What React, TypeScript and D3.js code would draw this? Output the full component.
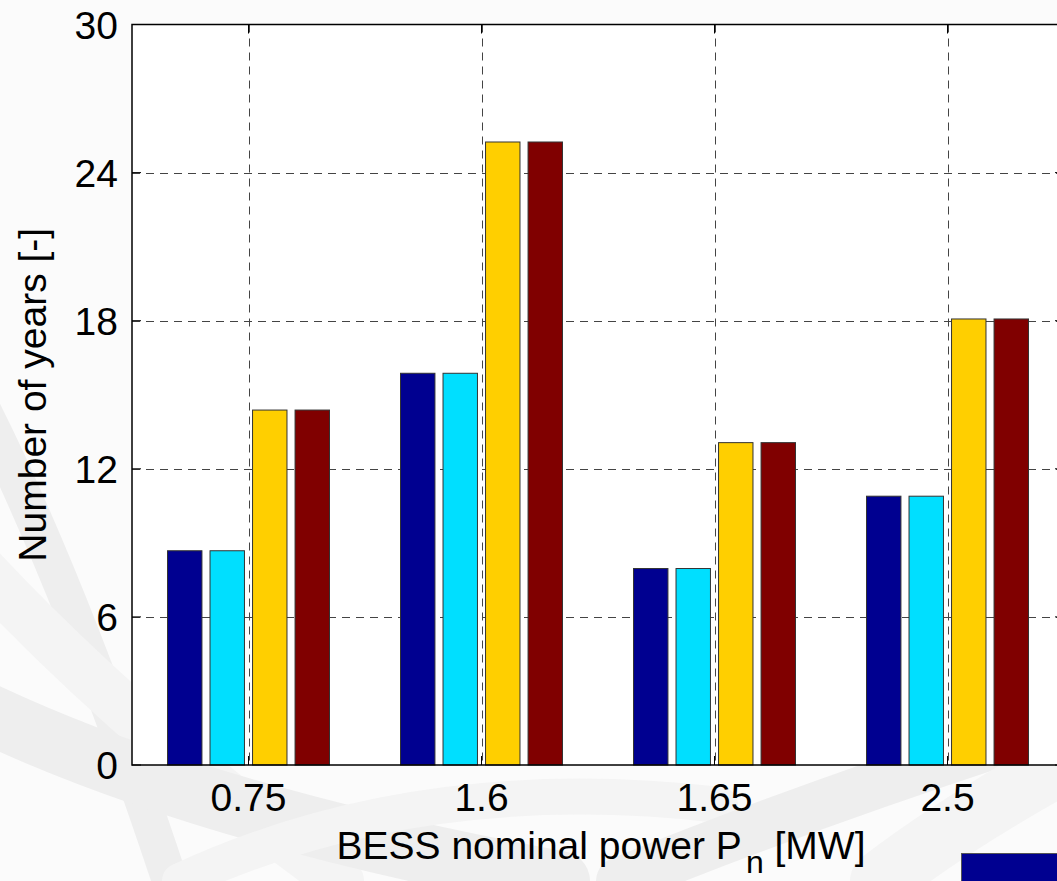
import * as d3 from 'd3';
import React, {useRef, useEffect} from 'react';

// data
const categories = ['0.75', '1.6', '1.65', '2.5'];
const seriesNames = ['Series 1', 'Series 2', 'Series 3', 'Series 4'];
const seriesColors = ['#000090', '#00DFFF', '#FFCF00', '#800000'];
const series1 = [8.68, 15.87, 7.96, 10.89];
const series2 = [8.68, 15.87, 7.96, 10.89];
const series3 = [14.38, 25.24, 13.06, 18.07];
const series4 = [14.38, 25.24, 13.06, 18.07];
const yTicks = [0, 6, 12, 18, 24, 30];

const W = 1057, H = 881;
const FONT = '"Liberation Sans", Arial, Helvetica, sans-serif';

function App() {
    const ref = useRef<SVGSVGElement>(null);

    useEffect(() => {
        const svg = d3.select(ref.current);
        svg.selectAll('*').remove();

        const left = 132, right = 1064, top = 24.5, bottom = 765;
        const values = [series1, series2, series3, series4];

        // faint background swooshes
        const bg = svg.append('g');
        const swooshes = [
            'M -60 330 Q 50 520 170 881',
            'M -80 500 Q 90 700 340 881',
            'M -60 690 Q 170 810 560 881',
            'M 180 881 Q 420 770 720 805',
            'M 620 881 Q 820 800 1070 720',
            'M 880 881 Q 960 820 1070 760',
        ];
        bg.selectAll('path').data(swooshes).enter().append('path')
            .attr('d', d => d)
            .attr('fill', 'none')
            .attr('stroke', (d, i) => i % 2 ? '#f4f4f4' : '#eeeeee')
            .attr('stroke-width', (d, i) => 36 + (i % 3) * 12)
            .attr('stroke-linecap', 'round');

        // white axes area
        svg.append('rect')
            .attr('x', left).attr('y', top)
            .attr('width', right - left).attr('height', bottom - top)
            .attr('fill', '#ffffff');

        const x = d3.scaleBand().domain(categories).range([left, right]).padding(0);
        const x1 = d3.scaleBand().domain(seriesNames).range([-81, 81]).paddingInner(0.19).paddingOuter(0);
        const y = d3.scaleLinear().domain([0, 30]).range([bottom, top]);

        // grid
        const grid = svg.append('g')
            .attr('stroke', '#444')
            .attr('stroke-width', 1)
            .attr('stroke-dasharray', '8,6');
        grid.selectAll('.hg').data(yTicks.filter(t => t > 0 && t < 30)).enter().append('line')
            .attr('x1', left).attr('x2', right)
            .attr('y1', d => Math.round(y(d)) + 0.5).attr('y2', d => Math.round(y(d)) + 0.5);
        grid.selectAll('.vg').data(categories).enter().append('line')
            .attr('x1', d => Math.round(x(d)! + x.bandwidth() / 2) + 0.5)
            .attr('x2', d => Math.round(x(d)! + x.bandwidth() / 2) + 0.5)
            .attr('y1', top).attr('y2', bottom);

        // bars
        const groups = svg.selectAll('.grp').data(categories).enter().append('g')
            .attr('transform', d => `translate(${x(d)! + x.bandwidth() / 2},0)`);
        groups.selectAll('rect')
            .data((c, ci) => seriesNames.map((s, si) => ({s, si, v: values[si][ci]})))
            .enter().append('rect')
            .attr('x', d => x1(d.s)!)
            .attr('y', d => y(d.v))
            .attr('width', x1.bandwidth())
            .attr('height', d => y(0) - y(d.v))
            .attr('fill', d => seriesColors[d.si])
            .attr('stroke', '#333')
            .attr('stroke-width', 1);

        // box + ticks
        const axes = svg.append('g').attr('stroke', '#000').attr('stroke-width', 1.5).attr('fill', 'none');
        axes.append('rect').attr('x', left).attr('y', top).attr('width', right - left).attr('height', bottom - top);
        const tl = 9;
        yTicks.forEach(t => {
            axes.append('line').attr('x1', left).attr('x2', left + tl).attr('y1', y(t)).attr('y2', y(t)).attr('stroke-width', 1);
            axes.append('line').attr('x1', right).attr('x2', right - tl).attr('y1', y(t)).attr('y2', y(t)).attr('stroke-width', 1);
        });
        categories.forEach(c => {
            const cx = x(c)! + x.bandwidth() / 2;
            axes.append('line').attr('x1', cx).attr('x2', cx).attr('y1', bottom).attr('y2', bottom - tl).attr('stroke-width', 1);
            axes.append('line').attr('x1', cx).attr('x2', cx).attr('y1', top).attr('y2', top + tl).attr('stroke-width', 1);
        });

        // tick labels
        svg.append('g').selectAll('text').data(yTicks).enter().append('text')
            .attr('x', 118).attr('y', d => y(d) + 14)
            .attr('text-anchor', 'end')
            .style('font-family', FONT).style('font-size', '39px')
            .text(d => d);
        svg.append('g').selectAll('text').data(categories).enter().append('text')
            .attr('x', d => x(d)! + x.bandwidth() / 2).attr('y', 811)
            .attr('text-anchor', 'middle')
            .style('font-family', FONT).style('font-size', '39px')
            .text(d => d);

        // axis titles
        svg.append('text')
            .attr('transform', `translate(46,${(top + bottom) / 2}) rotate(-90)`)
            .attr('text-anchor', 'middle')
            .style('font-family', FONT).style('font-size', '39px')
            .text('Number of years [-]');
        const xl = svg.append('text')
            .attr('x', 601).attr('y', 859)
            .attr('text-anchor', 'middle')
            .style('font-family', FONT).style('font-size', '39px');
        xl.append('tspan').text('BESS nominal power P');
        xl.append('tspan').attr('dy', 14).attr('dx', 4).style('font-size', '32px').text('n');
        xl.append('tspan').attr('dy', -14).text(' [MW]');

        // legend (cut off at the bottom right)
        svg.append('rect')
            .attr('x', 961.5).attr('y', 853.5)
            .attr('width', 200).attr('height', 60)
            .attr('fill', seriesColors[0])
            .attr('stroke', '#555');
    }, []);

    return (
        <svg ref={ref} width={W} height={H}
             style={{position: 'absolute', left: 0, top: 0, background: '#fbfbfb'}}>
        </svg>
    );
}

export default App;
